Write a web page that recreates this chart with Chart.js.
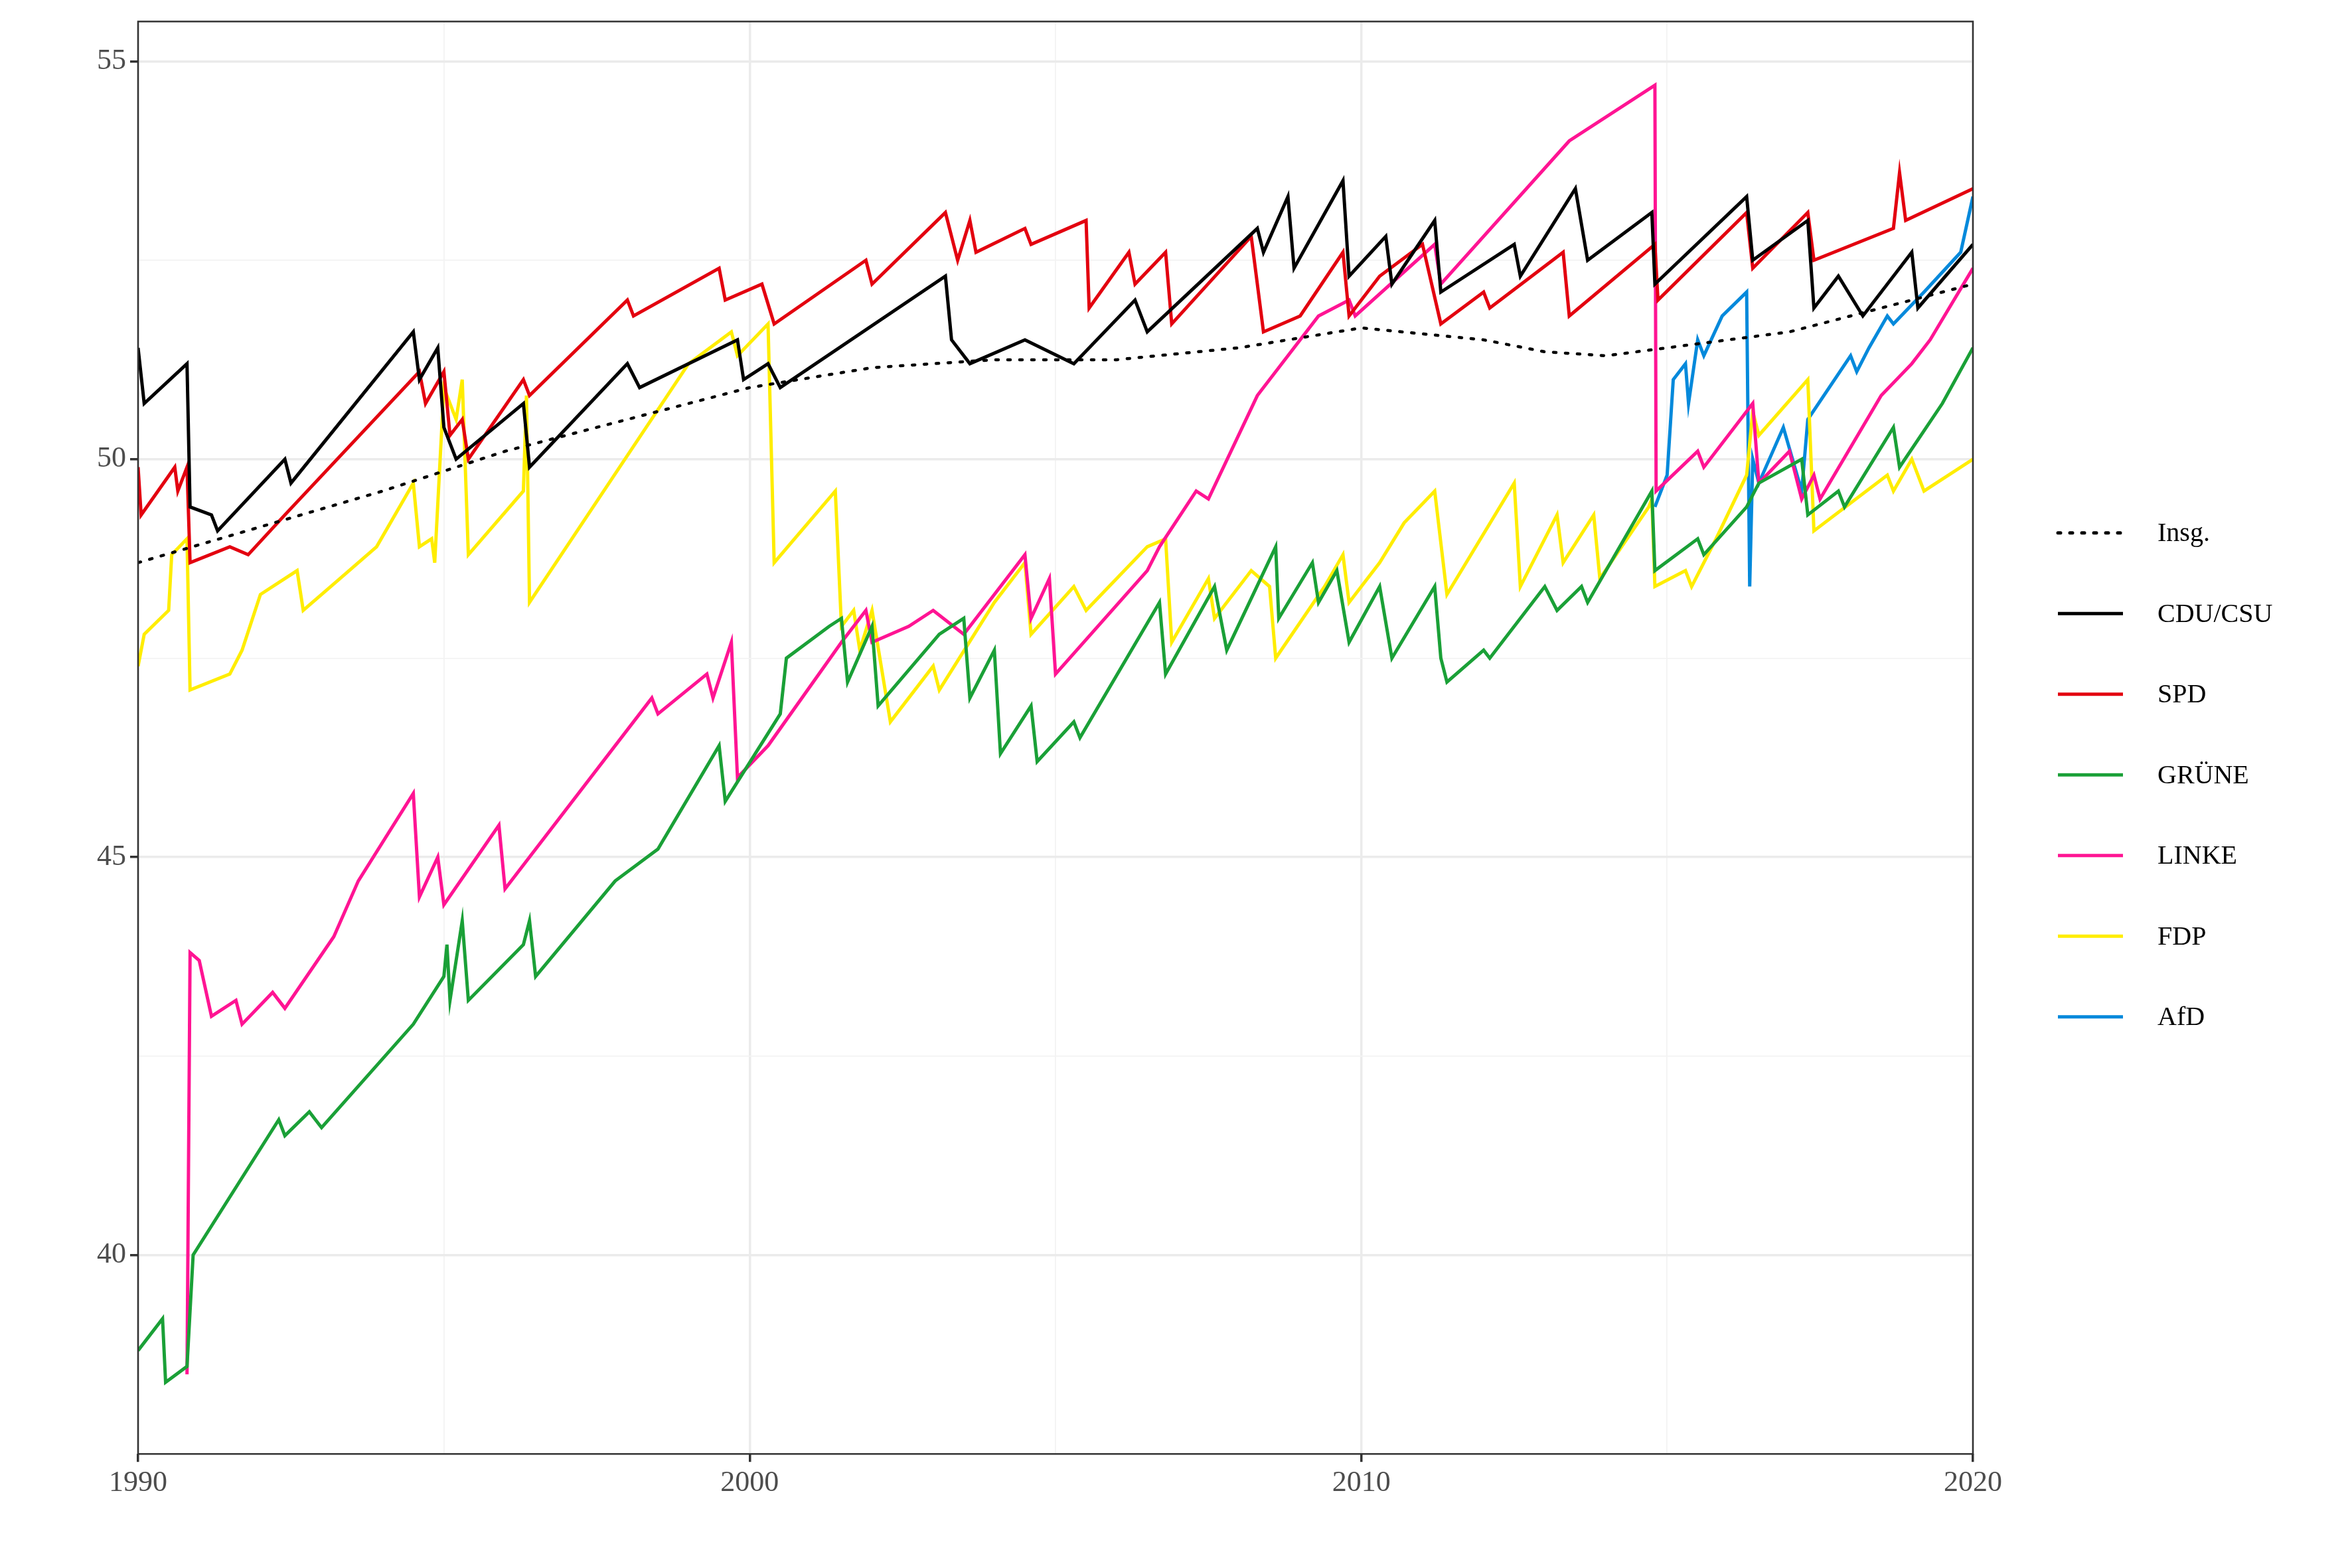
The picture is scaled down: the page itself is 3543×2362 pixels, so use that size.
<!DOCTYPE html>
<html><head><meta charset="utf-8">
<script src="https://cdn.jsdelivr.net/npm/chart.js@4"></script>
<style>html,body{margin:0;background:#fff}#w{width:3543px;height:2362px}</style>
</head><body><div id="w"><canvas id="c"></canvas></div>
<script>
const insg=[[1990,48.7],[1992,49.15],[1994,49.6],[1996,50.1],[1998,50.5],[2000,50.9],[2002,51.15],[2004,51.25],[2006,51.25],[2008,51.4],[2010,51.65],[2012,51.5],[2013,51.35],[2014,51.3],[2015,51.4],[2016,51.5],[2017,51.6],[2018,51.8],[2019,52.0],[2020,52.2]];
const cdu=[[1990,51.4],[1990.1,50.7],[1990.8,51.2],[1990.85,49.4],[1991.2,49.3],[1991.3,49.1],[1992.4,50.0],[1992.5,49.7],[1994.5,51.6],[1994.6,51.0],[1994.9,51.4],[1995.0,50.4],[1995.2,50.0],[1996.3,50.7],[1996.4,49.9],[1998.0,51.2],[1998.2,50.9],[1999.8,51.5],[1999.9,51.0],[2000.3,51.2],[2000.5,50.9],[2003.2,52.3],[2003.3,51.5],[2003.6,51.2],[2004.5,51.5],[2005.3,51.2],[2006.3,52.0],[2006.5,51.6],[2008.3,52.9],[2008.4,52.6],[2008.8,53.3],[2008.9,52.4],[2009.7,53.5],[2009.8,52.3],[2010.4,52.8],[2010.5,52.2],[2011.2,53.0],[2011.3,52.1],[2012.5,52.7],[2012.6,52.3],[2013.5,53.4],[2013.7,52.5],[2014.75,53.1],[2014.8,52.2],[2016.3,53.3],[2016.4,52.5],[2017.3,53.0],[2017.4,51.9],[2017.8,52.3],[2018.2,51.8],[2019.0,52.6],[2019.1,51.9],[2020,52.7]];
const spd=[[1990,49.9],[1990.05,49.3],[1990.6,49.9],[1990.65,49.6],[1990.8,49.9],[1990.85,48.7],[1991.5,48.9],[1991.8,48.8],[1992.4,49.3],[1994.6,51.1],[1994.7,50.7],[1995.0,51.1],[1995.1,50.3],[1995.3,50.5],[1995.4,50.0],[1996.3,51.0],[1996.4,50.8],[1998.0,52.0],[1998.1,51.8],[1999.5,52.4],[1999.6,52.0],[2000.2,52.2],[2000.4,51.7],[2001.9,52.5],[2002.0,52.2],[2003.2,53.1],[2003.4,52.5],[2003.6,53.0],[2003.7,52.6],[2004.5,52.9],[2004.6,52.7],[2005.5,53.0],[2005.55,51.9],[2006.2,52.6],[2006.3,52.2],[2006.8,52.6],[2006.9,51.7],[2008.2,52.8],[2008.4,51.6],[2009.0,51.8],[2009.7,52.6],[2009.8,51.8],[2010.3,52.3],[2011.0,52.7],[2011.3,51.7],[2012.0,52.1],[2012.1,51.9],[2013.3,52.6],[2013.4,51.8],[2014.8,52.7],[2014.85,52.0],[2016.3,53.1],[2016.4,52.4],[2017.3,53.1],[2017.4,52.5],[2018.7,52.9],[2018.8,53.6],[2018.9,53.0],[2020,53.4]];
const gruene=[[1990,38.8],[1990.4,39.2],[1990.45,38.4],[1990.8,38.6],[1990.9,40.0],[1992.3,41.7],[1992.4,41.5],[1992.8,41.8],[1993.0,41.6],[1994.5,42.9],[1995.0,43.5],[1995.05,43.9],[1995.1,43.2],[1995.3,44.2],[1995.4,43.2],[1996.3,43.9],[1996.4,44.2],[1996.5,43.5],[1997.8,44.7],[1998.5,45.1],[1999.5,46.4],[1999.6,45.7],[2000.5,46.8],[2000.6,47.5],[2001.3,47.9],[2001.5,48.0],[2001.6,47.2],[2002.0,47.9],[2002.1,46.9],[2003.1,47.8],[2003.5,48.0],[2003.6,47.0],[2004.0,47.6],[2004.1,46.3],[2004.6,46.9],[2004.7,46.2],[2005.3,46.7],[2005.4,46.5],[2006.7,48.2],[2006.8,47.3],[2007.6,48.4],[2007.8,47.6],[2008.6,48.9],[2008.65,48.0],[2009.2,48.7],[2009.3,48.2],[2009.6,48.6],[2009.8,47.7],[2010.3,48.4],[2010.5,47.5],[2011.2,48.4],[2011.3,47.5],[2011.4,47.2],[2012.0,47.6],[2012.1,47.5],[2012.9,48.3],[2013.0,48.4],[2013.2,48.1],[2013.6,48.4],[2013.7,48.2],[2014.75,49.6],[2014.8,48.6],[2015.5,49.0],[2015.6,48.8],[2016.3,49.4],[2016.5,49.7],[2017.2,50.0],[2017.3,49.3],[2017.8,49.6],[2017.9,49.4],[2018.7,50.4],[2018.8,49.9],[2019.5,50.7],[2020,51.4]];
const linke=[[1990.8,38.5],[1990.85,43.8],[1991.0,43.7],[1991.2,43.0],[1991.6,43.2],[1991.7,42.9],[1992.2,43.3],[1992.4,43.1],[1993.2,44.0],[1993.6,44.7],[1994.5,45.8],[1994.6,44.5],[1994.9,45.0],[1995.0,44.4],[1995.9,45.4],[1996.0,44.6],[1998.4,47.0],[1998.5,46.8],[1999.3,47.3],[1999.4,47.0],[1999.7,47.7],[1999.8,46.0],[2000.3,46.4],[2001.5,47.7],[2001.9,48.1],[2002.0,47.7],[2002.6,47.9],[2003.0,48.1],[2003.5,47.8],[2004.5,48.8],[2004.6,48.0],[2004.9,48.5],[2005.0,47.3],[2006.5,48.6],[2006.7,48.9],[2007.3,49.6],[2007.5,49.5],[2008.3,50.8],[2009.3,51.8],[2009.8,52.0],[2009.9,51.8],[2011.2,52.7],[2011.3,52.2],[2013.4,54.0],[2014.8,54.7],[2014.82,49.6],[2015.5,50.1],[2015.6,49.9],[2016.4,50.7],[2016.5,49.7],[2017.0,50.1],[2017.2,49.5],[2017.4,49.8],[2017.5,49.5],[2018.5,50.8],[2019.0,51.2],[2019.3,51.5],[2020,52.4]];
const fdp=[[1990,47.4],[1990.1,47.8],[1990.5,48.1],[1990.55,48.8],[1990.8,49.0],[1990.85,47.1],[1991.5,47.3],[1991.7,47.6],[1992.0,48.3],[1992.6,48.6],[1992.7,48.1],[1993.3,48.5],[1993.9,48.9],[1994.5,49.7],[1994.6,48.9],[1994.8,49.0],[1994.85,48.7],[1995.0,50.9],[1995.2,50.5],[1995.3,51.0],[1995.4,48.8],[1996.3,49.6],[1996.35,50.8],[1996.4,48.2],[1999.0,51.2],[1999.7,51.6],[1999.8,51.3],[2000.3,51.7],[2000.4,48.7],[2001.4,49.6],[2001.5,47.9],[2001.7,48.1],[2001.8,47.6],[2002.0,48.1],[2002.3,46.7],[2003.0,47.4],[2003.1,47.1],[2004.0,48.2],[2004.5,48.7],[2004.6,47.8],[2005.3,48.4],[2005.5,48.1],[2006.5,48.9],[2006.8,49.0],[2006.9,47.7],[2007.5,48.5],[2007.6,48.0],[2008.2,48.6],[2008.5,48.4],[2008.6,47.5],[2009.4,48.4],[2009.7,48.8],[2009.8,48.2],[2010.3,48.7],[2010.7,49.2],[2011.2,49.6],[2011.4,48.3],[2012.5,49.7],[2012.6,48.4],[2013.2,49.3],[2013.3,48.7],[2013.8,49.3],[2013.9,48.5],[2014.7,49.4],[2014.75,49.5],[2014.8,48.4],[2015.3,48.6],[2015.4,48.4],[2015.8,49.0],[2016.3,49.8],[2016.4,50.6],[2016.5,50.3],[2017.3,51.0],[2017.4,49.1],[2018.6,49.8],[2018.7,49.6],[2019.0,50.0],[2019.2,49.6],[2020,50.0]];
const afd=[[2014.8,49.4],[2015.0,49.8],[2015.1,51.0],[2015.3,51.2],[2015.35,50.7],[2015.5,51.5],[2015.6,51.3],[2015.9,51.8],[2016.3,52.1],[2016.35,48.4],[2016.4,50.0],[2016.5,49.7],[2016.9,50.4],[2017.2,49.6],[2017.3,50.5],[2018.0,51.3],[2018.1,51.1],[2018.3,51.4],[2018.6,51.8],[2018.7,51.7],[2019.2,52.1],[2019.8,52.6],[2020,53.3]];
const seriesNames=['Insg.','CDU/CSU','SPD','GRÜNE','LINKE','FDP','AfD'];
const seriesData=[insg,cdu,spd,gruene,linke,fdp,afd];
const seriesColors=['#000000','#000000','#e3000f','#1aa037','#ff1493','#ffed00','#0489db'];
const xTicks=[1990,2000,2010,2020];
const yTicks=[40,45,50,55];
const F="'Liberation Serif','DejaVu Serif',serif";

const border={id:'border',afterDraw(c){const a=c.chartArea,x=c.ctx;x.save();x.strokeStyle='#333';x.lineWidth=2.5;x.strokeRect(a.left,a.top,a.right-a.left,a.bottom-a.top);
// legend
const n=c.data.datasets.length,sp=121.5,cy=(a.top+a.bottom)/2+56,x0=a.right+128;
x.font="40px "+F;x.textBaseline='middle';x.textAlign='left';
c.data.datasets.forEach((ds,i)=>{const y=cy+(i-(n-1)/2)*sp;x.strokeStyle=ds.borderColor;x.lineWidth=5;x.setLineDash(ds.borderDash||[]);x.lineCap=ds.borderCapStyle;x.beginPath();x.moveTo(x0,y);x.lineTo(x0+98,y);x.stroke();x.setLineDash([]);x.fillStyle='#000';x.fillText(ds.label,x0+150,y+2);});
x.restore();}};
new Chart(document.getElementById('c'),{type:'line',
data:{datasets:seriesData.map((d,i)=>({label:seriesNames[i],data:d.map(p=>({x:p[0],y:p[1]})),borderColor:seriesColors[i],backgroundColor:seriesColors[i],borderWidth:i==0?4.5:5,borderDash:i==0?[4,14]:[],borderCapStyle:i==0?'round':'butt',pointRadius:0,tension:0,fill:false}))},
plugins:[border],
options:{responsive:true,maintainAspectRatio:false,animation:false,
layout:{padding:{left:140,right:571,top:6,bottom:95}},
plugins:{tooltip:{enabled:false},legend:{display:false}},
scales:{
x:{type:'linear',min:1990,max:2020,
ticks:{stepSize:5,autoSkip:false,maxRotation:0,font:{family:F,size:44},color:'#4d4d4d',padding:6,callback:v=>xTicks.includes(v)?String(v):''},
grid:{color:c=>xTicks.includes(c.tick.value)?'#ebebeb':'#f3f3f3',lineWidth:c=>xTicks.includes(c.tick.value)?3.5:1.8,tickLength:12,tickColor:c=>xTicks.includes(c.tick.value)?'#333':'rgba(0,0,0,0)'},border:{display:false}},
y:{type:'linear',min:37.5,max:55.5,
afterBuildTicks(s){const t=[];for(let v=37.5;v<=55.5;v+=2.5)t.push({value:v});s.ticks=t;},
ticks:{autoSkip:false,font:{family:F,size:44},color:'#4d4d4d',padding:6,callback:v=>yTicks.includes(v)?String(v):''},
grid:{color:c=>yTicks.includes(c.tick.value)?'#ebebeb':'#f3f3f3',lineWidth:c=>yTicks.includes(c.tick.value)?3.5:1.8,tickLength:12,tickColor:c=>yTicks.includes(c.tick.value)?'#333':'rgba(0,0,0,0)'},border:{display:false}}
}}});
</script></body></html>
